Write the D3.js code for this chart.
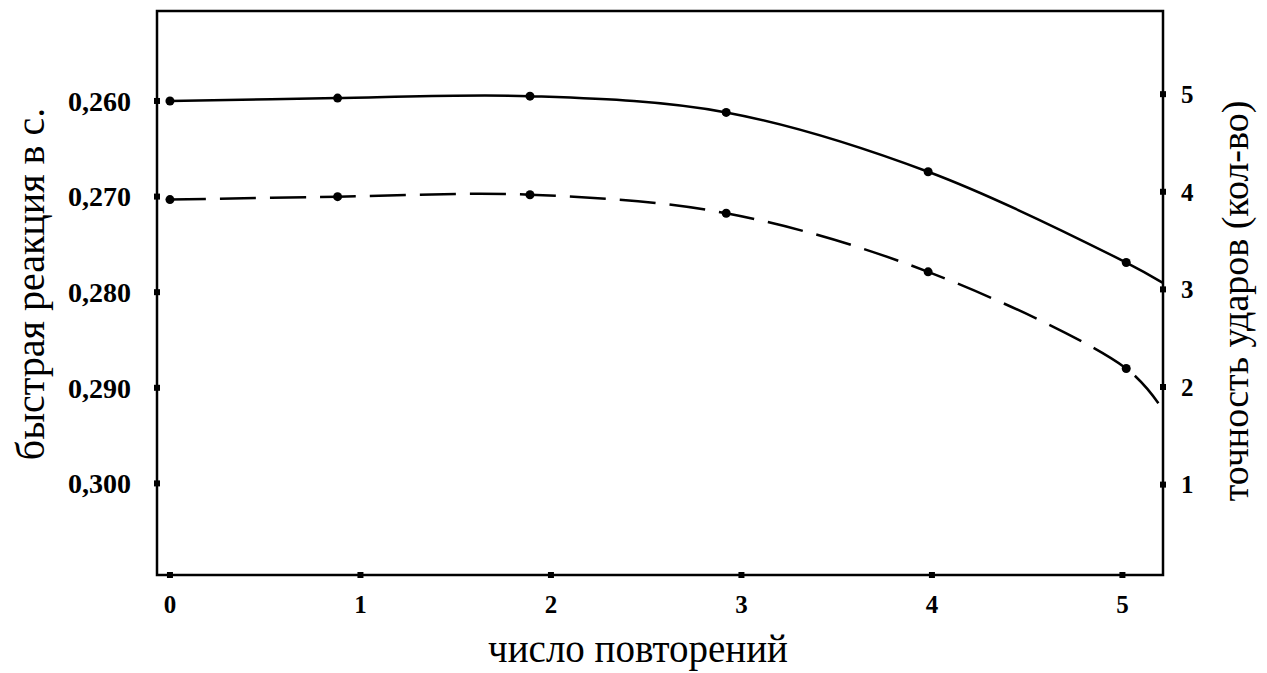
<!DOCTYPE html>
<html>
<head>
<meta charset="utf-8">
<script src="https://cdn.jsdelivr.net/npm/d3@7"></script>
<style>
  body { margin: 0; background: #fff; }
  svg { display: block; }
  text { font-family: "Liberation Serif", "Times New Roman", serif; fill: #000; }
</style>
</head>
<body>
<svg id="chart" width="1267" height="673"></svg>
<script>
// repetitions (x positions of the markers)
const repeats = [0, 0.88, 1.89, 2.92, 3.98, 5.02];
// quick reaction, s (left axis, solid line)
const reaction = [0.2600, 0.2597, 0.2595, 0.2612, 0.2674, 0.2769];
// punch accuracy, count (right axis, dashed line)
const accuracy = [3.92, 3.95, 3.97, 3.78, 3.18, 2.19];
// where each fitted curve leaves the plot on the right
const reactionEnd = { x: 5.21, y: 0.2790 };
const accuracyEnd = { x: 5.19, y: 1.83 };

const xTicks = [0, 1, 2, 3, 4, 5];
const leftTicks = [0.26, 0.27, 0.28, 0.29, 0.30];
const rightTicks = [1, 2, 3, 4, 5];

const svg = d3.select("#chart");
const box = { left: 157, right: 1163, top: 11, bottom: 575 };

const x = d3.scaleLinear().domain([-0.068, 5.213]).range([box.left, box.right]);
const yL = d3.scaleLinear().domain([0.25059, 0.30958]).range([box.top, box.bottom]);
const yR = d3.scaleLinear().domain([5.852, 0.074]).range([box.top, box.bottom]);

// frame
svg.append("rect")
    .attr("x", box.left).attr("y", box.top)
    .attr("width", box.right - box.left).attr("height", box.bottom - box.top)
    .attr("fill", "none").attr("stroke", "#000").attr("stroke-width", 2.5);

// tick squares
const sq = 6;
svg.append("g").selectAll("rect").data(xTicks).join("rect")
    .attr("x", d => x(d) - sq / 2).attr("y", box.bottom - sq / 2)
    .attr("width", sq).attr("height", sq).attr("fill", "#000");
svg.append("g").selectAll("rect").data(leftTicks).join("rect")
    .attr("x", box.left - sq / 2).attr("y", d => yL(d) - sq / 2)
    .attr("width", sq).attr("height", sq).attr("fill", "#000");
svg.append("g").selectAll("rect").data(rightTicks).join("rect")
    .attr("x", box.right - sq / 2).attr("y", d => yR(d) - sq / 2)
    .attr("width", sq).attr("height", sq).attr("fill", "#000");

// tick labels
const fmtL = d => d3.format(".3f")(d).replace(".", ",");
svg.append("g").selectAll("text").data(xTicks).join("text")
    .attr("x", d => x(d)).attr("y", 613)
    .attr("text-anchor", "middle")
    .attr("font-size", 25).attr("font-weight", "bold")
    .text(d => d);
svg.append("g").selectAll("text").data(leftTicks).join("text")
    .attr("x", 131).attr("y", d => yL(d)).attr("dy", "0.35em")
    .attr("text-anchor", "end")
    .attr("font-size", 28).attr("font-weight", "bold")
    .text(fmtL);
svg.append("g").selectAll("text").data(rightTicks).join("text")
    .attr("x", 1181).attr("y", d => yR(d)).attr("dy", "0.35em")
    .attr("text-anchor", "start")
    .attr("font-size", 25).attr("font-weight", "bold")
    .text(d => d);

// axis titles
svg.append("text")
    .attr("transform", "translate(44,284) rotate(-90)")
    .attr("text-anchor", "middle")
    .attr("font-size", 40)
    .text("быстрая реакция в с.");
svg.append("text")
    .attr("x", 638).attr("y", 662)
    .attr("text-anchor", "middle")
    .attr("font-size", 39)
    .text("число повторений");
svg.append("text")
    .attr("transform", "translate(1248,301) rotate(-90)")
    .attr("text-anchor", "middle")
    .attr("font-size", 38)
    .text("точность ударов (кол-во)");

// curves
const reactionPts = repeats.map((r, i) => ({ x: r, y: reaction[i] })).concat([reactionEnd]);
const accuracyPts = repeats.map((r, i) => ({ x: r, y: accuracy[i] })).concat([accuracyEnd]);

const lineL = d3.line().x(d => x(d.x)).y(d => yL(d.y)).curve(d3.curveCatmullRom.alpha(0.5));
const lineR = d3.line().x(d => x(d.x)).y(d => yR(d.y)).curve(d3.curveCatmullRom.alpha(0.5));

svg.append("path").datum(reactionPts)
    .attr("d", lineL).attr("fill", "none")
    .attr("stroke", "#000").attr("stroke-width", 2.5);
svg.append("path").datum(accuracyPts)
    .attr("d", lineR).attr("fill", "none")
    .attr("stroke", "#000").attr("stroke-width", 2.5)
    .attr("stroke-dasharray", "36,14");

// markers
svg.append("g").selectAll("circle").data(repeats).join("circle")
    .attr("cx", d => x(d)).attr("cy", (d, i) => yL(reaction[i]))
    .attr("r", 4.5).attr("fill", "#000");
svg.append("g").selectAll("circle").data(repeats).join("circle")
    .attr("cx", d => x(d)).attr("cy", (d, i) => yR(accuracy[i]))
    .attr("r", 4.5).attr("fill", "#000");
</script>
</body>
</html>
